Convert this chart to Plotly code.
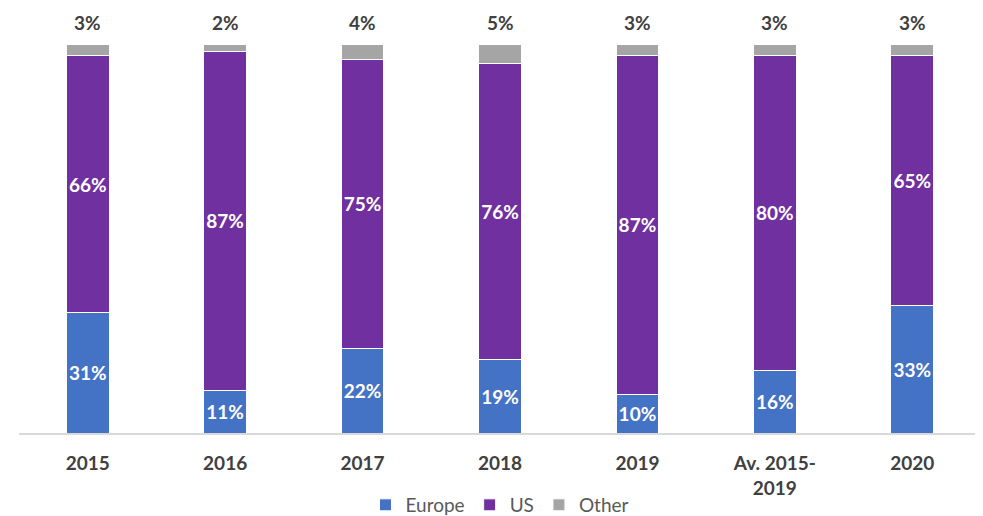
import plotly.graph_objects as go

categories = ["2015", "2016", "2017", "2018", "2019", "Av. 2015-<br>2019", "2020"]
europe = [31, 11, 22, 19, 10, 16, 33]
us = [66, 87, 75, 76, 87, 80, 65]
other = [3, 2, 4, 5, 3, 3, 3]

# shares drawn as 100% stacked columns (labels keep the rounded values)
totals = [e + u + o for e, u, o in zip(europe, us, other)]
def share(vals):
    return [v / t * 100 for v, t in zip(vals, totals)]

FONT = "Lato"
fig = go.Figure()
fig.add_trace(go.Bar(name="Europe", x=categories, y=share(europe), marker=dict(color="#4472C4", line=dict(color="white", width=1)),
                     text=[f"{v}%" for v in europe], textposition="inside", insidetextanchor="middle", textangle=0,
                     textfont=dict(color="white", size=19, family=FONT, weight="bold")))
fig.add_trace(go.Bar(name="US", x=categories, y=share(us), marker=dict(color="#7030A0", line=dict(color="white", width=1)),
                     text=[f"{v}%" for v in us], textposition="inside", insidetextanchor="middle", textangle=0,
                     textfont=dict(color="white", size=19, family=FONT, weight="bold")))
fig.add_trace(go.Bar(name="Other", x=categories, y=share(other), marker=dict(color="#A5A5A5", line=dict(color="white", width=1)),
                     textposition="none"))

# "Other" labels above each column
e_s, u_s, o_s = share(europe), share(us), share(other)
for i, (v, a, b, d) in enumerate(zip(other, e_s, u_s, o_s)):
    fig.add_annotation(x=i, y=a + b + d, xref="x", yref="y", text=f"{v}%", showarrow=False,
                       yanchor="middle", yshift=22,
                       font=dict(color="#404040", size=19, family=FONT, weight="bold"))

fig.update_traces(cliponaxis=False, constraintext="none", hoverinfo="skip")
fig.update_layout(
    barmode="stack", bargap=0.69,
    width=975, height=508,
    margin=dict(l=11, r=2, t=36, b=83, autoexpand=False),
    plot_bgcolor="white", paper_bgcolor="white",
    font=dict(family=FONT, color="#595959"),
    xaxis=dict(type="category", showline=True, linecolor="#D9D9D9", linewidth=2, ticks="", ticklabelstandoff=12,
               tickfont=dict(size=19, color="#404040", family=FONT, weight="bold")),
    yaxis=dict(range=[0, 100], visible=False, showgrid=False),
    legend=dict(orientation="h", x=0.5, xanchor="center", y=-0.185, yanchor="middle",
                font=dict(size=19, color="#595959", family=FONT), traceorder="normal"),
)
fig.write_html("out.html")
